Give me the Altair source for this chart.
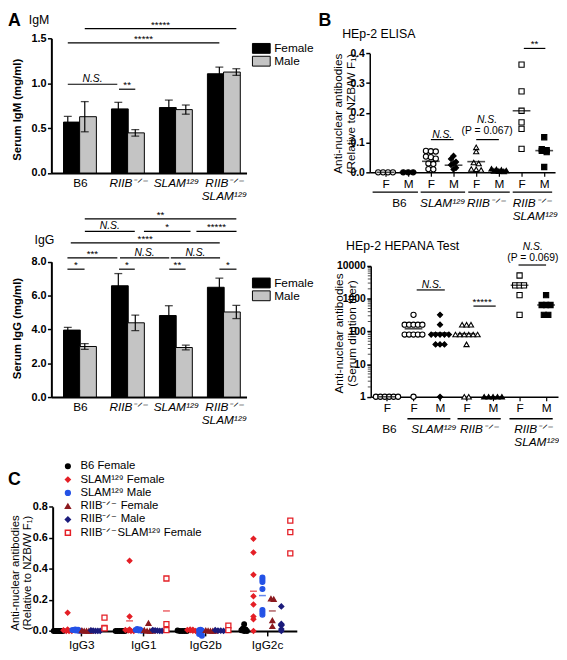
import altair as alt
import pandas as pd
import numpy as np
from collections import defaultdict

FONT = "Liberation Sans"
W, H = 559, 650
R_KO = "RIIB⁻ᐟ⁻"
S129 = "SLAM¹²⁹"

# ------------------------------------------------------------------ Panel A data
A_groups = ["B6", R_KO, S129, R_KO + "|" + S129]
sexes = ["Female", "Male"]
bar_colors = ["black", "#c4c4c4"]
igm_female = [0.567, 0.714, 0.729, 1.105]
igm_female_sem = [0.063, 0.073, 0.083, 0.074]
igm_male = [0.627, 0.447, 0.706, 1.124]
igm_male_sem = [0.168, 0.037, 0.051, 0.037]
igg_female = [3.96, 6.58, 4.82, 6.49]
igg_female_sem = [0.16, 0.72, 0.58, 0.54]
igg_male = [2.99, 4.39, 2.93, 5.03]
igg_male_sem = [0.17, 0.46, 0.14, 0.39]
DODGE = 0.168

# significance bars: (label, x1, x2, y)
igm_sig = [("*****", 0.168, 3.168, 1.607), ("*****", -0.168, 2.832, 1.449),
           ("N.S.", -0.168, 0.812, 0.988), ("**", 0.846, 1.168, 0.933)]
igg_sig = [("**", 0.168, 3.168, 10.53),
           ("N.S.", 0.17, 1.158, 9.79), ("*", 1.339, 2.261, 9.79), ("*****", 2.378, 3.172, 9.79),
           ("****", -0.109, 2.84, 9.11),
           ("***", -0.175, 0.813, 8.23), ("N.S.", 0.865, 1.84, 8.23), ("N.S.", 1.871, 2.846, 8.23),
           ("*", -0.175, 0.164, 7.56), ("*", 0.846, 1.158, 7.56), ("**", 1.84, 2.164, 7.56),
           ("*", 2.834, 3.171, 7.56)]

# ------------------------------------------------------------------ Panel B data
el_groups = ["B6_F", "B6_M", "SLAM_F", "SLAM_M", "RIIB_F", "RIIB_M", "RS_F", "RS_M"]
el_shapes = ["circle", "circle", "circle", "diamond", "triangle-up", "triangle-up", "square", "square"]
el_fills = ["white", "black", "white", "black", "white", "black", "white", "black"]
el_vals = [
    [0.0, 0.0, 0.0, 0.0],
    [0.0, 0.0, 0.0],
    [0.072, 0.071, 0.07, 0.053, 0.051, 0.046, 0.03, 0.028, 0.011, 0.01],
    [0.055, 0.045, 0.035, 0.03, 0.025, 0.015, 0.01],
    [0.084, 0.07, 0.033, 0.03, 0.011, 0.01, 0.008],
    [0.012, 0.01, 0.008, 0.006, 0.005, 0.004, 0.003],
    [0.362, 0.272, 0.207, 0.168, 0.146, 0.079],
    [0.118, 0.078, 0.075, 0.072, 0.068, 0.018],
]
el_medians = [0.0, 0.0, 0.037, 0.024, 0.036, 0.006, 0.207, 0.073]
el_ticklabels = ["F", "M", "F", "M", "F", "M", "F", "M"]
el_sig_lines = [(6.1, 7.05, 0.4166), (2.0, 3.0, 0.110), (4.0, 5.0, 0.110)]
el_sig_text = [("**", 6.57, 0.4166, "star", -1), ("N.S.", 2.5, 0.110, "ns", -2),
               ("N.S.", 4.48, 0.110, "ns", -16.5), ("(P = 0.067)", 4.48, 0.110, "p", -6)]
el_group_lines = [(-0.57, 1.43), (1.55, 3.51), (3.65, 5.48), (5.61, 7.35)]
el_group_text = [("B6", 0.61, "normal", "center"), (S129, 2.52, "italic", "center"),
                 (R_KO, 4.43, "italic", "center"), (R_KO + "\n" + S129, 5.61, "italic", "left")]

he_groups = ["B6_F", "SLAM_F", "SLAM_M", "RIIB_F", "RIIB_M", "RS_F", "RS_M"]
he_shapes = ["circle", "circle", "diamond", "triangle-up", "triangle-up", "square", "square"]
he_fills = ["white", "white", "black", "white", "black", "white", "black"]
he_vals = [
    [1, 1, 1, 1, 1, 1],
    [320, 160, 160, 160, 160, 160, 80, 80, 80, 80, 80, 1],
    [320, 160, 80, 80, 80, 80, 80, 40, 40, 40, 1],
    [160, 160, 160, 80, 80, 80, 80, 80, 80, 40, 1, 1],
    [1, 1, 1, 1, 1],
    [5120, 2560, 2560, 2560, 1280, 320],
    [1280, 640, 640, 640, 320, 320],
]
he_medians = [1, 120, 90, 85, 1, 2560, 640]
he_ticklabels = ["F", "F", "M", "F", "M", "F", "M"]
he_minor = [m * 10 ** k for k in range(4) for m in range(2, 10)]
he_sig_lines = [(1.12, 2.18, 1849), (3.26, 4.1, 593), (4.96, 6.0, 10700)]
he_sig_text = [("N.S.", 1.69, 1849, "ns", -2), ("*****", 3.59, 593, "star", -1),
               ("N.S.", 5.5, 10700, "ns", -15.5), ("(P = 0.069)", 5.5, 10700, "p", -4)]
he_group_lines = [(0.77, 2.39), (2.66, 4.29), (4.62, 6.25)]
he_group_text = [("B6", 0.09, "normal", "center"), (S129, 1.77, "italic", "center"),
                 (R_KO, 3.47, "italic", "center"), (R_KO + "\n" + S129, 4.8, "italic", "left")]

# ------------------------------------------------------------------ Panel C data
c_iso = ["IgG3", "IgG1", "IgG2b", "IgG2c"]
c_groups = ["B6 Female", S129 + " Female", S129 + " Male", R_KO + " Female", R_KO + " Male",
            R_KO + S129 + " Female"]
c_offsets = [-0.37, -0.22, -0.075, 0.085, 0.23, 0.375]
c_fill = ["black", "#e41f26", "#2452e6", "#8c1a1f", "#1c1c7c", "white"]
c_stroke = ["black", "#e41f26", "#2452e6", "#8c1a1f", "#1c1c7c", "#e41f26"]
c_shapes = ["circle", "diamond", "circle", "triangle-up", "diamond", "square"]
c_sizes = [22, 26, 28, 24, 24, 48]
c_IgG3 = [[0.0, 0.0, 0.0, 0.0, 0.0, 0.0, 0.0],
          [0.118, 0.01, 0.005, 0.0, 0.0, 0.0],
          [0.01, 0.008, 0.006, 0.004, 0.002, 0.0],
          [0.003, 0.0, 0.0, 0.0, 0.0],
          [0.004, 0.002, 0.0, 0.0, 0.0],
          [0.086, 0.02, 0.017]]
c_IgG1 = [[0.0, 0.0, 0.0, 0.0, 0.0, 0.0],
          [0.453, 0.093, 0.01, 0.006, 0.003, 0.0, 0.0],
          [0.012, 0.01, 0.006, 0.004, 0.002],
          [0.05, 0.005, 0.0, 0.0, 0.0],
          [0.006, 0.004, 0.002, 0.0, 0.0],
          [0.338, 0.044, 0.005]]
c_IgG2b = [[0.003, 0.0, 0.0, 0.0, 0.0],
           [0.01, 0.008, 0.006, 0.004, 0.002, 0.0],
           [0.008, 0.005, 0.003, -0.02, -0.03],
           [0.004, 0.002, 0.0, 0.0, 0.0],
           [0.005, 0.003, 0.002, 0.0],
           [0.034, 0.006]]
c_IgG2c = [[0.044, 0.015, 0.01, 0.005, 0.0, 0.0],
           [0.594, 0.505, 0.362, 0.224, 0.171, 0.093, 0.076, 0.0],
           [0.345, 0.33, 0.315, 0.27, 0.135, 0.12, 0.105],
           [0.208, 0.205, 0.068, 0.03],
           [0.158, 0.045, 0.035, 0.012, 0.0],
           [0.711, 0.637, 0.5]]
c_means = [("IgG1", 1, 0.065), ("IgG1", 5, 0.129), ("IgG2c", 1, 0.256),
           ("IgG2c", 2, 0.228), ("IgG2c", 3, 0.129), ("IgG2c", 4, 0.04)]

# ------------------------------------------------------------------ helpers
def swarm(vals, res, spacing, maxw, log=False):
    bins = defaultdict(list)
    for i, v in enumerate(vals):
        key = round((np.log10(v) if log else v) / res)
        bins[key].append(i)
    offs = [0.0] * len(vals)
    for idxs in bins.values():
        n = len(idxs)
        sp = spacing if n < 2 else min(spacing, 2 * maxw / (n - 1))
        for j, i in enumerate(idxs):
            offs[i] = (j - (n - 1) / 2) * sp
    return offs


def qx(field, sc, axis=None):
    return alt.X(f"{field}:Q", scale=sc, axis=axis)


def qy(field, sc, axis=None):
    return alt.Y(f"{field}:Q", scale=sc, axis=axis)


def lin(d, r):
    return alt.Scale(domain=d, range=r, nice=False, zero=False)


AX = dict(grid=False, domainColor="black", tickColor="black", labelColor="black",
          titleColor="black", labelOverlap=False, labelFlush=False)
AXY = dict(titleAngle=270, titleAlign="center", titleBaseline="bottom", labelFontWeight="bold",
           tickWidth=1.5, **AX)

STYLES = {"star": dict(fontSize=10, fontStyle="normal"),
          "ns": dict(fontSize=10.5, fontStyle="italic"),
          "p": dict(fontSize=10.5, fontStyle="normal")}

layers = []


def sig_layers(lines, texts, sx, sy):
    out = []
    ldf = pd.DataFrame([dict(x1=a, x2=b, y=y) for a, b, y in lines])
    out.append(alt.Chart(ldf).mark_rule(color="black", strokeWidth=1.2).encode(
        x=qx("x1", sx), x2=alt.X2("x2"), y=qy("y", sy)))
    tdf = pd.DataFrame([dict(t=t, x=x, y=y, kind=k, dy=d) for t, x, y, k, d in texts])
    for (k, d), sub in tdf.groupby(["kind", "dy"]):
        out.append(alt.Chart(sub).mark_text(baseline="alphabetic", align="center", color="black",
                                            dy=float(d), **STYLES[k]).encode(
            x=qx("x", sx), y=qy("y", sy), text="t:N"))
    return out


def free_text(rows, sx, sy, **style):
    df = pd.DataFrame([dict(t=t, x=x, y=y) for t, x, y in rows])
    return alt.Chart(df).mark_text(color="black", **style).encode(
        x=qx("x", sx), y=qy("y", sy), text="t:N")


# ------------------------------------------------------------------ Panel A
A_label_expr = "[" + ",".join("[" + ",".join(f"'{p}'" for p in g.split("|")) + "]"
                              for g in A_groups) + "][datum.value]"
COND_ITAL = {"condition": {"test": "datum.value == 0", "value": "normal"}, "value": "italic"}


def bar_frame(fem, fem_sem, mal, mal_sem):
    rows = []
    for i in range(4):
        rows.append(dict(x=i - DODGE, sex="Female", v=fem[i], lo=fem[i] - fem_sem[i], hi=fem[i] + fem_sem[i]))
        rows.append(dict(x=i + DODGE, sex="Male", v=mal[i], lo=mal[i] - mal_sem[i], hi=mal[i] + mal_sem[i]))
    return pd.DataFrame(rows)


def panel_A(df, sx, sy, yvals, ytitle, y_axis_px, title_y, legend_y, sig):
    yaxis = alt.Axis(orient="left", offset=-44, values=yvals, format=".1f", title=ytitle,
                     titleX=-29, titleY=title_y, titleFontSize=11.5, titleFontWeight="bold",
                     labelFontSize=11, tickSize=4, domainWidth=2, labelPadding=1.5, **AXY)
    xaxis = alt.Axis(orient="bottom", offset=-(H - y_axis_px), values=[0, 1, 2, 3],
                     labelExpr=A_label_expr, title=None, ticks=False, tickSize=0, labelPadding=5,
                     labelFontSize=12, labelLineHeight=13, labelFontStyle=COND_ITAL,
                     domainWidth=2, **AX)
    legend = alt.Legend(orient="none", legendX=251, legendY=legend_y, title=None,
                        symbolType="M-1.8,-1H1.8V1H-1.8Z", symbolSize=100,
                        symbolStrokeColor="black", symbolStrokeWidth=1, labelFontSize=12,
                        labelOffset=7, rowPadding=-2.5, padding=0, labelColor="black")
    out = [alt.Chart(df).mark_bar(orient="vertical", size=17, stroke="black", strokeWidth=1).encode(
        x=qx("x", sx, xaxis), y=qy("v", sy, yaxis), y2=alt.datum(0),
        fill=alt.Fill("sex:N", scale=alt.Scale(domain=sexes, range=bar_colors), legend=legend))]
    out.append(alt.Chart(df).mark_rule(color="black", strokeWidth=1.2).encode(
        x=qx("x", sx), y=qy("lo", sy), y2=alt.Y2("hi")))
    for f in ["hi", "lo"]:
        out.append(alt.Chart(df).mark_tick(orient="horizontal", size=8, thickness=1.3, color="black").encode(
            x=qx("x", sx), y=qy(f, sy)))
    lines = [(a, b, y) for t, a, b, y in sig]
    texts = [(t, (a + b) / 2, y, "ns" if t == "N.S." else "star", -2 if t == "N.S." else -1)
             for t, a, b, y in sig]
    out += sig_layers(lines, texts, sx, sy)
    return out


sxM = lin([-0.493, 3.37], [44, 242])
syM = lin([0, 1.5], [162.7, 26])
layers += panel_A(bar_frame(igm_female, igm_female_sem, igm_male, igm_male_sem), sxM, syM,
                  [0, 0.5, 1.0, 1.5], "Serum IgM (mg/ml)", 162.7, 98, 30.25, igm_sig)
layers.append(free_text([("A", -1.35, 1.632)], sxM, syM, fontSize=18, fontWeight="bold",
                        align="left", baseline="alphabetic"))
layers.append(free_text([("IgM", -0.94, 1.662)], sxM, syM, fontSize=12.5, align="left",
                        baseline="alphabetic"))

sxG = lin([-0.493, 3.37], [44, 242])
syG = lin([0, 8], [390, 252.7])
layers += panel_A(bar_frame(igg_female, igg_female_sem, igg_male, igg_male_sem), sxG, syG,
                  [0, 2, 4, 6, 8], "Serum IgG (mg/ml)", 390, 320, 268.25, igg_sig)
layers.append(free_text([("IgG", -0.825, 9.07)], sxG, syG, fontSize=12.5, align="left",
                        baseline="alphabetic"))


# ------------------------------------------------------------------ Panel B
def panel_B(groups, vals, medians, shapes, fills, ticklabels, sx, sy, yaxis, x_axis_px,
            res, spacing, maxw, log):
    rows = []
    for gi, (g, vs) in enumerate(zip(groups, vals)):
        for v, o in zip(vs, swarm(vs, res, spacing, maxw, log)):
            rows.append(dict(g=g, x=gi + o, v=v))
    df = pd.DataFrame(rows)
    lab = "[" + ",".join(f"'{t}'" for t in ticklabels) + "][datum.value]"
    xaxis = alt.Axis(orient="bottom", offset=-(H - x_axis_px), values=list(range(len(groups))),
                     labelExpr=lab, title=None, tickSize=4, tickWidth=1.2, labelPadding=2,
                     labelFontSize=12, domainWidth=1.5, **AX)
    out = [alt.Chart(df).mark_point(opacity=1, strokeWidth=1.1, size=28, stroke="black").encode(
        x=qx("x", sx, xaxis), y=qy("v", sy, yaxis),
        shape=alt.Shape("g:N", scale=alt.Scale(domain=groups, range=shapes), legend=None),
        fill=alt.Fill("g:N", scale=alt.Scale(domain=groups, range=fills), legend=None))]
    mdf = pd.DataFrame(dict(x=list(range(len(groups))), v=medians))
    out.append(alt.Chart(mdf).mark_tick(orient="horizontal", size=18, thickness=1.6, color="black").encode(
        x=qx("x", sx), y=qy("v", sy)))
    return out


sxE = lin([-0.696, 7.478], [367, 555])
syE = lin([0, 0.4], [162, 41.3])
yaxE = alt.Axis(orient="left", offset=-367, values=[0, 0.1, 0.2, 0.3, 0.4], format=".1f",
                title=["Anti-nuclear antibodies", "(Relative to NZB/W F₁)"], titleX=-26,
                titleY=102, titleFontSize=12, titleFontWeight="normal", titleLineHeight=14,
                labelFontSize=10.5, tickSize=4, domainWidth=1.5, labelPadding=1.5, **AXY)
layers += panel_B(el_groups, el_vals, el_medians, el_shapes, el_fills, el_ticklabels, sxE, syE,
                  yaxE, 162, 0.01, 0.217, 0.5, False)
layers += sig_layers(el_sig_lines, el_sig_text, sxE, syE)
gl = pd.DataFrame([dict(x1=a, x2=b, y=-0.0663) for a, b in el_group_lines])
layers.append(alt.Chart(gl).mark_rule(color="black", strokeWidth=1.3).encode(
    x=qx("x1", sxE), x2=alt.X2("x2"), y=qy("y", syE)))
for t, x, st, al in el_group_text:
    layers.append(free_text([(t, x, -0.0855)], sxE, syE, fontSize=12, fontStyle=st, align=al,
                            baseline="top", lineBreak="\n", lineHeight=13.5))
layers.append(free_text([("B", -2.96, 0.4905)], sxE, syE, fontSize=18, fontWeight="bold",
                        align="left", baseline="alphabetic"))
layers.append(free_text([("HEp-2 ELISA", -1.91, 0.452)], sxE, syE, fontSize=12.5, align="left",
                        baseline="alphabetic"))

sxH = lin([-0.613, 6.45], [368, 558])
syH = alt.Scale(type="log", domain=[1, 10000], range=[389.7, 257], nice=False)
yaxH = alt.Axis(orient="left", offset=-368, values=[1, 10, 100, 1000, 10000], format="d",
                title=["Anti-nuclear antibodies", "(Serum dilution titer)"], titleX=-26,
                titleY=325, titleFontSize=12, titleFontWeight="normal", titleLineHeight=14,
                labelFontSize=10.5, tickSize=4, domainWidth=1.5, labelPadding=1.5, **AXY)
layers += panel_B(he_groups, he_vals, he_medians, he_shapes, he_fills, he_ticklabels, sxH, syH,
                  yaxH, 389.7, 0.06, 0.167, 0.42, True)
mdf = pd.DataFrame(dict(x=[-0.613] * len(he_minor), v=he_minor))
layers.append(alt.Chart(mdf).mark_tick(orient="horizontal", size=3, thickness=1, color="black",
                                       xOffset=-1.5).encode(x=qx("x", sxH), y=qy("v", syH)))
layers += sig_layers(he_sig_lines, he_sig_text, sxH, syH)
gl = pd.DataFrame([dict(x1=a, x2=b, y=0.213) for a, b in he_group_lines])
layers.append(alt.Chart(gl).mark_rule(color="black", strokeWidth=1.3).encode(
    x=qx("x1", sxH), x2=alt.X2("x2"), y=qy("y", syH)))
for t, x, st, al in he_group_text:
    layers.append(free_text([(t, x, 0.145)], sxH, syH, fontSize=12, fontStyle=st, align=al,
                            baseline="top", lineBreak="\n", lineHeight=13.5))
layers.append(free_text([("HEp-2 HEPANA Test", -1.543, 31180)], sxH, syH, fontSize=12.5,
                        align="left", baseline="alphabetic"))

# ------------------------------------------------------------------ Panel C
sxC = lin([-0.462, 3.48], [45.3, 293])
syC = lin([0, 0.8], [627.3, 501.3])
rows = []
for ii, data in enumerate([c_IgG3, c_IgG1, c_IgG2b, c_IgG2c]):
    for gi, vs in enumerate(data):
        for v, o in zip(vs, swarm(vs, 0.012, 0.045, 0.075)):
            rows.append(dict(grp=c_groups[gi], x=ii + c_offsets[gi] + o, v=v))
cdf = pd.DataFrame(rows)
yaxC = alt.Axis(orient="left", offset=-45.3, values=[0, 0.2, 0.4, 0.6, 0.8], format=".1f",
                title=["Anti-nuclear antibodies", "(Relative to NZB/W F₁)"], titleX=-32.5,
                titleY=568, titleFontSize=11.5, titleFontWeight="normal", titleLineHeight=12.5,
                labelFontSize=11, tickSize=4, domainWidth=2, labelPadding=1.5, **AXY)
xaxC = alt.Axis(orient="bottom", offset=-(H - 627.3), values=[0, 1, 2, 3],
                labelExpr="['IgG3','IgG1','IgG2b','IgG2c'][datum.value]", title=None,
                tickSize=5, tickWidth=1.5, labelPadding=3.5, labelFontSize=12, domainWidth=2, **AX)
legC = alt.Legend(orient="none", legendX=55, legendY=454.5, title=None, labelFontSize=11.5,
                  rowPadding=0.5, labelOffset=7, padding=0, labelColor="black")
layers.append(alt.Chart(cdf).mark_point(opacity=1, strokeWidth=1.3).encode(
    x=qx("x", sxC, xaxC), y=qy("v", syC, yaxC),
    fill=alt.Fill("grp:N", scale=alt.Scale(domain=c_groups, range=c_fill), legend=legC),
    stroke=alt.Stroke("grp:N", scale=alt.Scale(domain=c_groups, range=c_stroke), legend=legC),
    shape=alt.Shape("grp:N", scale=alt.Scale(domain=c_groups, range=c_shapes), legend=legC),
    size=alt.Size("grp:N", scale=alt.Scale(domain=c_groups, range=c_sizes), legend=legC)))
mrows = [dict(grp=c_groups[g], x=c_iso.index(iso) + c_offsets[g], v=v) for iso, g, v in c_means]
layers.append(alt.Chart(pd.DataFrame(mrows)).mark_tick(orient="horizontal", size=7, thickness=1.5).encode(
    x=qx("x", sxC), y=qy("v", syC),
    color=alt.Color("grp:N", scale=alt.Scale(domain=c_groups, range=c_stroke), legend=None)))
layers.append(free_text([("C", -1.183, 0.942)], sxC, syC, fontSize=18, fontWeight="bold",
                        align="left", baseline="alphabetic"))

chart = alt.layer(*layers).resolve_scale(
    x="independent", y="independent", fill="independent", stroke="independent",
    shape="independent", size="independent", color="independent"
).properties(width=W, height=H, padding=0, autosize=alt.AutoSizeParams(type="none")
).configure(font=FONT).configure_view(stroke=None)

chart.save("out.html", embed_options={"renderer": "svg", "actions": False})
